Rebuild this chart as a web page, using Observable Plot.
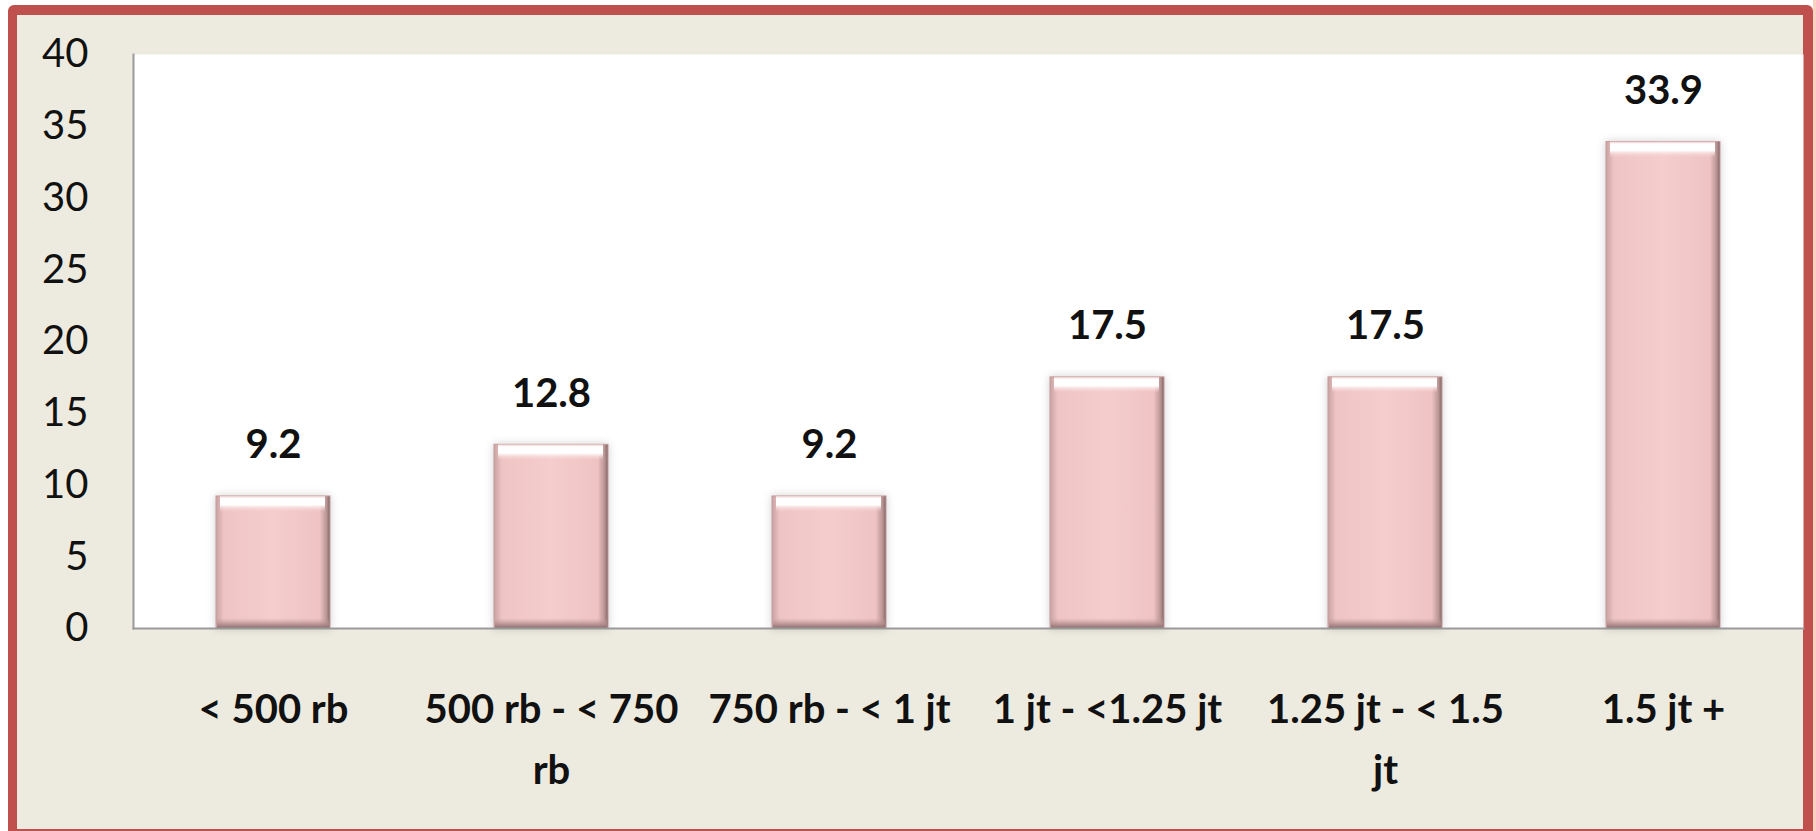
<!DOCTYPE html>
<html>
<head>
<meta charset="utf-8">
<script src="https://cdn.jsdelivr.net/npm/d3@7"></script>
<script src="https://cdn.jsdelivr.net/npm/@observablehq/plot@0.6"></script>
<style>
  html, body { margin: 0; padding: 0; background: #ffffff; width: 1816px; height: 831px; overflow: hidden; }
  #border { position: absolute; left: 8px; top: 5px; width: 1805px; height: 834px; box-sizing: border-box;
            border: solid #C0504D; border-width: 10px 10px 10px 9px; border-radius: 6px; background: #EDEADF; }
  #peach { position: absolute; left: 1813px; top: 0; width: 3px; height: 831px; background: #FBD3C2; }
  #chart { position: absolute; left: 0; top: 0; }
</style>
</head>
<body>
<div id="border"></div>
<div id="peach"></div>
<svg width="0" height="0" style="position:absolute">
  <defs>
    <linearGradient id="barH" x1="0" y1="0" x2="1" y2="0">
      <stop offset="0" stop-color="#c9a2a2"/>
      <stop offset="0.07" stop-color="#efc4c4"/>
      <stop offset="0.5" stop-color="#f5cdcd"/>
      <stop offset="0.91" stop-color="#efc3c3"/>
      <stop offset="0.97" stop-color="#b99494"/>
      <stop offset="1" stop-color="#7e6464"/>
    </linearGradient>
    <linearGradient id="barTop" x1="0" y1="0" x2="0" y2="1">
      <stop offset="0" stop-color="#eccaca"/>
      <stop offset="0.15" stop-color="#ffffff"/>
      <stop offset="0.55" stop-color="#ffffff"/>
      <stop offset="1" stop-color="#f5cdcd" stop-opacity="0"/>
    </linearGradient>
    <linearGradient id="barBot" x1="0" y1="0" x2="0" y2="1">
      <stop offset="0" stop-color="#c9a0a0" stop-opacity="0"/>
      <stop offset="0.6" stop-color="#b08a8a" stop-opacity="0.8"/>
      <stop offset="1" stop-color="#8c6e6e"/>
    </linearGradient>
  </defs>
</svg>
<div id="chart"></div>
<script>
const categories = ["< 500 rb", "500 rb - < 750\nrb", "750 rb - < 1 jt", "1 jt - <1.25 jt", "1.25 jt - < 1.5\njt", "1.5 jt +"];
const values = [9.2, 12.8, 9.2, 17.5, 17.5, 33.9];
const yTicks = [0, 5, 10, 15, 20, 25, 30, 35, 40];

const data = categories.map((c, i) => ({cat: c, val: values[i]}));

const chart = Plot.plot({
  width: 1816,
  height: 831,
  marginLeft: 133,
  marginRight: 13,
  marginTop: 54,
  marginBottom: 203,
  style: {background: "transparent", fontFamily: "Lato, 'Open Sans', sans-serif", fontSize: "40px", color: "#111"},
  x: {domain: categories, paddingInner: 0.59, paddingOuter: 0.295, label: null},
  y: {domain: [0, 40], label: null},
  marks: [
    Plot.frame({fill: "white", stroke: null}),
    Plot.barY(data, {x: "cat", y: "val", fill: "url(#barH)", stroke: "#c49b9b", strokeWidth: 1, imageFilter: "drop-shadow(0 0 4px rgba(0,0,0,0.18))"}),
    Plot.barY(data, {x: "cat", y1: "val", y2: "val", insetBottom: -16, insetLeft: 4, insetRight: 5, fill: "url(#barTop)"}),
    Plot.barY(data, {x: "cat", y1: 0, y2: 0, insetTop: -10, insetLeft: 1, insetRight: 1, fill: "url(#barBot)"}),
    Plot.frame({anchor: "left", stroke: "#9a9a9a", strokeWidth: 2}),
    Plot.frame({anchor: "bottom", stroke: "#9a9a9a", strokeWidth: 2}),
    Plot.axisY({ticks: yTicks, tickSize: 0, tickPadding: 45, fontSize: 40, label: null}),
    Plot.axisX({tickSize: 0, tickPadding: 51, fontSize: 40, fontWeight: "bold", lineHeight: 1.53, label: null}),
    Plot.text(data, {x: "cat", y: "val", text: d => d.val.toFixed(1), dy: -51, fontSize: 40, fontWeight: "bold", fill: "#111"})
  ]
});
document.getElementById("chart").appendChild(chart);
</script>
</body>
</html>
